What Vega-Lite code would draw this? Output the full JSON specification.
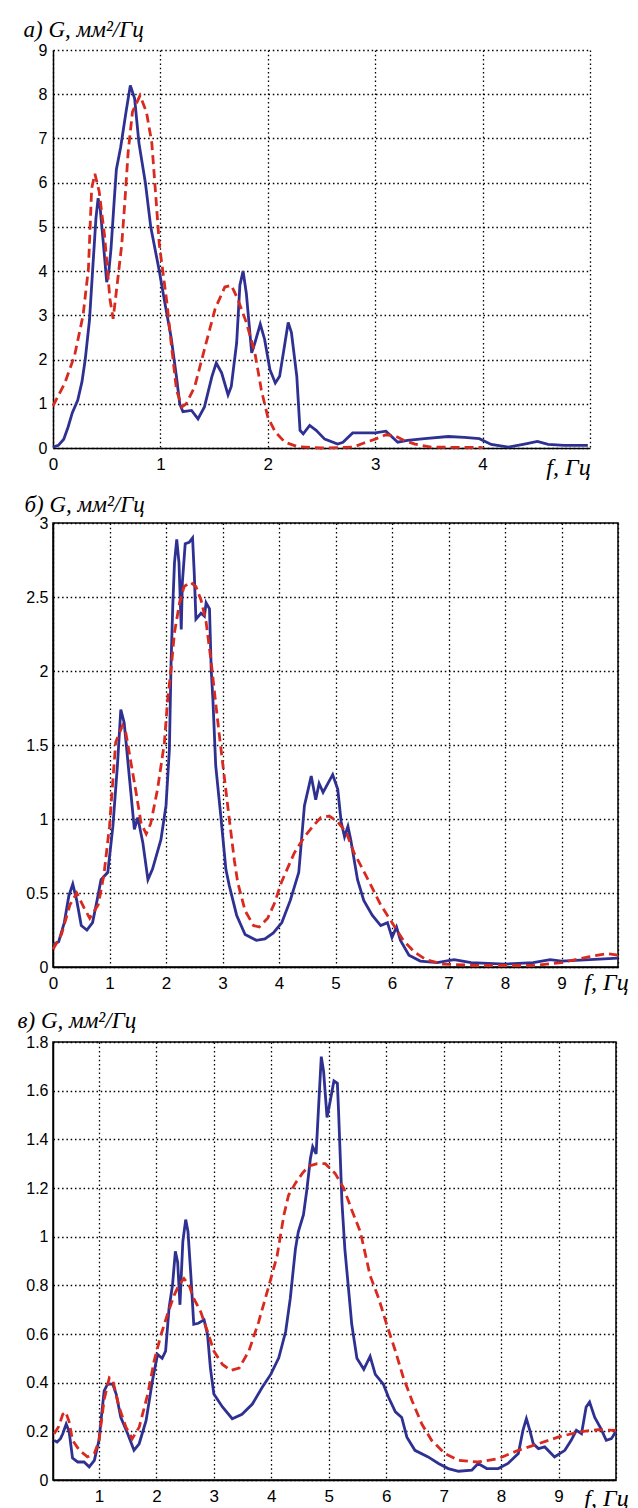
{
"$schema": "https://vega.github.io/schema/vega-lite/v6.json",
"padding": {"left": 16, "top": 18, "right": 5, "bottom": 0},
"background": "white",
"bounds": "flush",
"spacing": 75,
"config": {
  "font": "Liberation Sans",
  "view": {"stroke": "#000", "strokeWidth": 1.5},
  "axis": {"grid": true, "gridColor": "#000", "gridDash": [1.5, 2.8], "gridWidth": 1.3, "gridOpacity": 1,
           "domainColor": "#000", "domainWidth": 1.5, "ticks": false, "labelFont": "Liberation Sans", "labelFontSize": 16,
           "labelColor": "#000", "labelFlush": false, "labelOverlap": false, "format": "~g",
           "titleFont": "Liberation Serif", "titleFontStyle": "italic", "titleFontWeight": "normal", "titleFontSize": 22, "titleColor": "#000"}
},
"datasets": {
  "a_exp": [{"f":0,"G":0.02},{"f":0.05,"G":0.06},{"f":0.1,"G":0.2},{"f":0.14,"G":0.47},{"f":0.18,"G":0.8},{"f":0.23,"G":1.08},{"f":0.27,"G":1.5},{"f":0.3,"G":2.0},{"f":0.34,"G":2.9},{"f":0.37,"G":4.06},{"f":0.4,"G":5.2},{"f":0.42,"G":5.65},{"f":0.44,"G":5.4},{"f":0.47,"G":4.6},{"f":0.5,"G":3.75},{"f":0.52,"G":4.0},{"f":0.54,"G":4.5},{"f":0.57,"G":5.6},{"f":0.59,"G":6.3},{"f":0.63,"G":6.8},{"f":0.68,"G":7.6},{"f":0.72,"G":8.2},{"f":0.76,"G":7.9},{"f":0.8,"G":6.9},{"f":0.86,"G":6.0},{"f":0.91,"G":5.0},{"f":0.95,"G":4.5},{"f":0.99,"G":4.0},{"f":1.04,"G":3.3},{"f":1.1,"G":2.5},{"f":1.15,"G":1.6},{"f":1.18,"G":1.0},{"f":1.21,"G":0.82},{"f":1.29,"G":0.85},{"f":1.35,"G":0.66},{"f":1.41,"G":0.93},{"f":1.48,"G":1.62},{"f":1.52,"G":1.92},{"f":1.57,"G":1.7},{"f":1.63,"G":1.2},{"f":1.66,"G":1.39},{"f":1.71,"G":2.38},{"f":1.74,"G":3.68},{"f":1.77,"G":4.0},{"f":1.8,"G":3.5},{"f":1.85,"G":2.15},{"f":1.88,"G":2.38},{"f":1.93,"G":2.8},{"f":1.97,"G":2.46},{"f":2.02,"G":1.77},{"f":2.07,"G":1.47},{"f":2.11,"G":1.62},{"f":2.16,"G":2.38},{"f":2.19,"G":2.84},{"f":2.22,"G":2.61},{"f":2.27,"G":1.62},{"f":2.3,"G":0.4},{"f":2.33,"G":0.32},{"f":2.39,"G":0.51},{"f":2.45,"G":0.4},{"f":2.53,"G":0.2},{"f":2.65,"G":0.09},{"f":2.7,"G":0.13},{"f":2.79,"G":0.34},{"f":3.0,"G":0.34},{"f":3.1,"G":0.38},{"f":3.21,"G":0.13},{"f":3.3,"G":0.17},{"f":3.46,"G":0.21},{"f":3.68,"G":0.26},{"f":3.83,"G":0.24},{"f":3.97,"G":0.21},{"f":4.08,"G":0.08},{"f":4.24,"G":0.02},{"f":4.39,"G":0.09},{"f":4.51,"G":0.15},{"f":4.61,"G":0.08},{"f":4.76,"G":0.06},{"f":4.98,"G":0.06}],
  "a_th": [{"f":0,"G":0.95},{"f":0.11,"G":1.47},{"f":0.2,"G":2.08},{"f":0.28,"G":3.0},{"f":0.33,"G":4.06},{"f":0.36,"G":5.87},{"f":0.39,"G":6.2},{"f":0.43,"G":5.8},{"f":0.48,"G":4.8},{"f":0.53,"G":3.37},{"f":0.56,"G":2.92},{"f":0.6,"G":3.75},{"f":0.64,"G":4.6},{"f":0.67,"G":5.6},{"f":0.7,"G":6.7},{"f":0.74,"G":7.6},{"f":0.81,"G":7.97},{"f":0.87,"G":7.6},{"f":0.92,"G":6.9},{"f":0.96,"G":5.6},{"f":0.99,"G":4.6},{"f":1.06,"G":3.3},{"f":1.1,"G":2.38},{"f":1.15,"G":1.31},{"f":1.2,"G":0.93},{"f":1.24,"G":1.0},{"f":1.32,"G":1.39},{"f":1.41,"G":2.23},{"f":1.51,"G":3.15},{"f":1.6,"G":3.64},{"f":1.66,"G":3.68},{"f":1.72,"G":3.37},{"f":1.8,"G":2.84},{"f":1.88,"G":2.15},{"f":1.94,"G":1.31},{"f":2.0,"G":0.7},{"f":2.07,"G":0.36},{"f":2.16,"G":0.13},{"f":2.28,"G":0.03},{"f":2.5,"G":0.0},{"f":2.8,"G":0.02},{"f":2.87,"G":0.09},{"f":3.0,"G":0.2},{"f":3.1,"G":0.3},{"f":3.18,"G":0.28},{"f":3.27,"G":0.17},{"f":3.37,"G":0.09},{"f":3.52,"G":0.02},{"f":4.0,"G":0.01}],
  "b_exp": [{"f":0,"G":0.15},{"f":0.1,"G":0.17},{"f":0.2,"G":0.3},{"f":0.28,"G":0.48},{"f":0.35,"G":0.56},{"f":0.42,"G":0.45},{"f":0.5,"G":0.28},{"f":0.6,"G":0.25},{"f":0.7,"G":0.3},{"f":0.78,"G":0.45},{"f":0.85,"G":0.59},{"f":0.97,"G":0.64},{"f":1.06,"G":0.95},{"f":1.14,"G":1.36},{"f":1.2,"G":1.74},{"f":1.26,"G":1.65},{"f":1.35,"G":1.29},{"f":1.44,"G":0.93},{"f":1.5,"G":1.01},{"f":1.59,"G":0.84},{"f":1.68,"G":0.59},{"f":1.76,"G":0.66},{"f":1.91,"G":0.86},{"f":2.0,"G":1.09},{"f":2.06,"G":1.47},{"f":2.09,"G":2.06},{"f":2.12,"G":2.44},{"f":2.15,"G":2.73},{"f":2.19,"G":2.89},{"f":2.23,"G":2.73},{"f":2.27,"G":2.28},{"f":2.29,"G":2.6},{"f":2.34,"G":2.86},{"f":2.41,"G":2.87},{"f":2.47,"G":2.9},{"f":2.5,"G":2.66},{"f":2.53,"G":2.35},{"f":2.62,"G":2.39},{"f":2.68,"G":2.37},{"f":2.71,"G":2.46},{"f":2.77,"G":2.42},{"f":2.8,"G":2.01},{"f":2.83,"G":1.81},{"f":2.88,"G":1.36},{"f":2.97,"G":1.02},{"f":3.06,"G":0.66},{"f":3.12,"G":0.55},{"f":3.25,"G":0.35},{"f":3.4,"G":0.22},{"f":3.6,"G":0.18},{"f":3.75,"G":0.19},{"f":3.9,"G":0.23},{"f":4.05,"G":0.3},{"f":4.2,"G":0.45},{"f":4.35,"G":0.64},{"f":4.45,"G":1.09},{"f":4.57,"G":1.29},{"f":4.65,"G":1.13},{"f":4.71,"G":1.24},{"f":4.78,"G":1.18},{"f":4.95,"G":1.3},{"f":5.04,"G":1.2},{"f":5.1,"G":0.98},{"f":5.16,"G":0.88},{"f":5.22,"G":0.95},{"f":5.27,"G":0.86},{"f":5.39,"G":0.59},{"f":5.5,"G":0.45},{"f":5.65,"G":0.35},{"f":5.8,"G":0.28},{"f":5.92,"G":0.3},{"f":6.0,"G":0.2},{"f":6.08,"G":0.27},{"f":6.15,"G":0.18},{"f":6.3,"G":0.08},{"f":6.5,"G":0.04},{"f":6.8,"G":0.03},{"f":7.1,"G":0.05},{"f":7.4,"G":0.03},{"f":8.0,"G":0.02},{"f":8.5,"G":0.03},{"f":8.8,"G":0.05},{"f":9.0,"G":0.04},{"f":9.5,"G":0.05},{"f":10,"G":0.06}],
  "b_th": [{"f":0,"G":0.12},{"f":0.15,"G":0.22},{"f":0.3,"G":0.42},{"f":0.42,"G":0.5},{"f":0.55,"G":0.4},{"f":0.65,"G":0.33},{"f":0.8,"G":0.42},{"f":0.9,"G":0.62},{"f":1.0,"G":0.95},{"f":1.11,"G":1.52},{"f":1.23,"G":1.63},{"f":1.29,"G":1.58},{"f":1.38,"G":1.38},{"f":1.47,"G":1.18},{"f":1.56,"G":0.97},{"f":1.65,"G":0.9},{"f":1.73,"G":0.97},{"f":1.85,"G":1.2},{"f":1.97,"G":1.51},{"f":2.03,"G":1.81},{"f":2.09,"G":2.01},{"f":2.15,"G":2.26},{"f":2.24,"G":2.46},{"f":2.32,"G":2.57},{"f":2.43,"G":2.6},{"f":2.53,"G":2.57},{"f":2.62,"G":2.48},{"f":2.71,"G":2.33},{"f":2.8,"G":2.06},{"f":2.86,"G":1.85},{"f":2.94,"G":1.58},{"f":3.03,"G":1.29},{"f":3.12,"G":1.0},{"f":3.21,"G":0.72},{"f":3.27,"G":0.57},{"f":3.4,"G":0.38},{"f":3.55,"G":0.28},{"f":3.65,"G":0.27},{"f":3.8,"G":0.33},{"f":3.92,"G":0.43},{"f":4.04,"G":0.57},{"f":4.27,"G":0.77},{"f":4.45,"G":0.88},{"f":4.62,"G":0.96},{"f":4.74,"G":1.01},{"f":4.89,"G":1.02},{"f":5.04,"G":0.98},{"f":5.19,"G":0.91},{"f":5.33,"G":0.77},{"f":5.51,"G":0.64},{"f":5.63,"G":0.55},{"f":5.8,"G":0.42},{"f":6.0,"G":0.3},{"f":6.2,"G":0.18},{"f":6.4,"G":0.1},{"f":6.6,"G":0.05},{"f":6.9,"G":0.02},{"f":7.5,"G":0.01},{"f":8.5,"G":0.01},{"f":9.0,"G":0.03},{"f":9.5,"G":0.07},{"f":9.8,"G":0.09},{"f":10,"G":0.08}],
  "c_exp": [{"f":0.22,"G":0.163},{"f":0.27,"G":0.156},{"f":0.33,"G":0.17},{"f":0.37,"G":0.19},{"f":0.43,"G":0.23},{"f":0.48,"G":0.2},{"f":0.54,"G":0.09},{"f":0.63,"G":0.074},{"f":0.74,"G":0.074},{"f":0.83,"G":0.054},{"f":0.92,"G":0.081},{"f":1.0,"G":0.163},{"f":1.09,"G":0.366},{"f":1.15,"G":0.394},{"f":1.24,"G":0.394},{"f":1.3,"G":0.353},{"f":1.38,"G":0.258},{"f":1.5,"G":0.19},{"f":1.61,"G":0.122},{"f":1.7,"G":0.149},{"f":1.82,"G":0.244},{"f":1.93,"G":0.407},{"f":2.02,"G":0.516},{"f":2.1,"G":0.5},{"f":2.16,"G":0.53},{"f":2.22,"G":0.706},{"f":2.28,"G":0.8},{"f":2.33,"G":0.94},{"f":2.37,"G":0.895},{"f":2.41,"G":0.72},{"f":2.46,"G":0.98},{"f":2.51,"G":1.07},{"f":2.55,"G":1.02},{"f":2.6,"G":0.84},{"f":2.65,"G":0.64},{"f":2.73,"G":0.644},{"f":2.83,"G":0.658},{"f":2.89,"G":0.597},{"f":2.94,"G":0.46},{"f":3.0,"G":0.353},{"f":3.15,"G":0.3},{"f":3.32,"G":0.252},{"f":3.49,"G":0.27},{"f":3.67,"G":0.312},{"f":3.84,"G":0.38},{"f":3.99,"G":0.434},{"f":4.13,"G":0.502},{"f":4.25,"G":0.61},{"f":4.33,"G":0.746},{"f":4.42,"G":0.95},{"f":4.47,"G":1.02},{"f":4.56,"G":1.09},{"f":4.62,"G":1.195},{"f":4.68,"G":1.32},{"f":4.72,"G":1.37},{"f":4.78,"G":1.34},{"f":4.82,"G":1.52},{"f":4.87,"G":1.74},{"f":4.91,"G":1.68},{"f":4.97,"G":1.49},{"f":5.02,"G":1.55},{"f":5.09,"G":1.64},{"f":5.15,"G":1.63},{"f":5.17,"G":1.52},{"f":5.23,"G":1.14},{"f":5.28,"G":0.95},{"f":5.35,"G":0.77},{"f":5.4,"G":0.64},{"f":5.49,"G":0.5},{"f":5.61,"G":0.455},{"f":5.72,"G":0.508},{"f":5.81,"G":0.434},{"f":5.95,"G":0.394},{"f":6.04,"G":0.34},{"f":6.16,"G":0.28},{"f":6.27,"G":0.257},{"f":6.36,"G":0.176},{"f":6.5,"G":0.122},{"f":6.73,"G":0.095},{"f":6.91,"G":0.068},{"f":7.08,"G":0.047},{"f":7.26,"G":0.036},{"f":7.49,"G":0.04},{"f":7.6,"G":0.068},{"f":7.75,"G":0.047},{"f":7.95,"G":0.047},{"f":8.12,"G":0.068},{"f":8.3,"G":0.109},{"f":8.38,"G":0.204},{"f":8.44,"G":0.252},{"f":8.5,"G":0.204},{"f":8.56,"G":0.149},{"f":8.65,"G":0.129},{"f":8.76,"G":0.136},{"f":8.93,"G":0.095},{"f":9.11,"G":0.122},{"f":9.22,"G":0.163},{"f":9.31,"G":0.204},{"f":9.4,"G":0.19},{"f":9.48,"G":0.3},{"f":9.54,"G":0.32},{"f":9.63,"G":0.257},{"f":9.74,"G":0.21},{"f":9.83,"G":0.163},{"f":9.92,"G":0.17},{"f":10,"G":0.2}],
  "c_th": [{"f":0.22,"G":0.19},{"f":0.3,"G":0.22},{"f":0.37,"G":0.27},{"f":0.42,"G":0.28},{"f":0.48,"G":0.24},{"f":0.54,"G":0.163},{"f":0.66,"G":0.122},{"f":0.8,"G":0.095},{"f":0.92,"G":0.109},{"f":1.0,"G":0.16},{"f":1.09,"G":0.33},{"f":1.18,"G":0.42},{"f":1.24,"G":0.41},{"f":1.35,"G":0.3},{"f":1.47,"G":0.217},{"f":1.58,"G":0.17},{"f":1.7,"G":0.217},{"f":1.85,"G":0.353},{"f":1.96,"G":0.489},{"f":2.08,"G":0.597},{"f":2.19,"G":0.679},{"f":2.31,"G":0.76},{"f":2.39,"G":0.8},{"f":2.48,"G":0.828},{"f":2.57,"G":0.8},{"f":2.65,"G":0.746},{"f":2.77,"G":0.692},{"f":2.89,"G":0.61},{"f":3.0,"G":0.53},{"f":3.15,"G":0.475},{"f":3.29,"G":0.45},{"f":3.44,"G":0.46},{"f":3.61,"G":0.53},{"f":3.78,"G":0.65},{"f":3.96,"G":0.8},{"f":4.1,"G":0.92},{"f":4.22,"G":1.09},{"f":4.3,"G":1.17},{"f":4.42,"G":1.22},{"f":4.54,"G":1.26},{"f":4.65,"G":1.29},{"f":4.8,"G":1.3},{"f":4.94,"G":1.3},{"f":5.11,"G":1.26},{"f":5.26,"G":1.2},{"f":5.4,"G":1.11},{"f":5.55,"G":1.02},{"f":5.72,"G":0.84},{"f":5.87,"G":0.746},{"f":6.01,"G":0.638},{"f":6.16,"G":0.53},{"f":6.3,"G":0.42},{"f":6.45,"G":0.326},{"f":6.62,"G":0.23},{"f":6.79,"G":0.163},{"f":7.02,"G":0.109},{"f":7.26,"G":0.081},{"f":7.6,"G":0.074},{"f":7.95,"G":0.088},{"f":8.3,"G":0.122},{"f":8.65,"G":0.149},{"f":8.99,"G":0.176},{"f":9.34,"G":0.197},{"f":9.69,"G":0.207},{"f":10,"G":0.204}]
},
"vconcat": [
  {
    "width": 537, "height": 398,
    "view": {"stroke": null},
    "encoding": {
      "x": {"field": "f", "type": "quantitative", "scale": {"domain": [0, 5], "nice": false, "zero": false},
            "axis": {"values": [0,1,2,3,4,5], "labelExpr": "datum.value == 5 ? '' : datum.label", "labelPadding": 8, "labelFontSize": 17,
                     "title": "f, Гц", "titleFontSize": 24, "titleAlign": "center", "titleBaseline": "alphabetic", "titleX": 515, "titleY": 26}},
      "y": {"field": "G", "type": "quantitative", "scale": {"domain": [0, 9], "nice": false},
            "axis": {"values": [0,1,2,3,4,5,6,7,8,9], "labelPadding": 6,
                     "title": "а)  G, мм²/Гц", "titleFontSize": 23, "titleAngle": 0, "titleAlign": "left", "titleBaseline": "alphabetic", "titleX": -30, "titleY": -14}}
    },
    "layer": [
      {"data": {"name": "a_exp"}, "mark": {"type": "line", "color": "#2e3192", "strokeWidth": 2.8}},
      {"data": {"name": "a_th"}, "mark": {"type": "line", "color": "#d92a1f", "strokeWidth": 2.8, "strokeDash": [9, 5]}}
    ]
  },
  {
    "width": 565, "height": 444,
    "encoding": {
      "x": {"field": "f", "type": "quantitative", "scale": {"domain": [0, 10], "nice": false, "zero": false},
            "axis": {"values": [0,1,2,3,4,5,6,7,8,9,10], "labelExpr": "datum.value == 10 ? '' : datum.label", "labelPadding": 8, "labelFontSize": 17,
                     "title": "f, Гц", "titleFontSize": 24, "titleAlign": "center", "titleBaseline": "alphabetic", "titleX": 553, "titleY": 22}},
      "y": {"field": "G", "type": "quantitative", "scale": {"domain": [0, 3], "nice": false},
            "axis": {"values": [0,0.5,1,1.5,2,2.5,3], "labelPadding": 5,
                     "title": "б)  G, мм²/Гц", "titleFontSize": 23, "titleAngle": 0, "titleAlign": "left", "titleBaseline": "alphabetic", "titleX": -29, "titleY": -12}}
    },
    "layer": [
      {"data": {"name": "b_exp"}, "mark": {"type": "line", "color": "#2e3192", "strokeWidth": 2.8}},
      {"data": {"name": "b_th"}, "mark": {"type": "line", "color": "#d92a1f", "strokeWidth": 2.8, "strokeDash": [9, 5]}}
    ]
  },
  {
    "width": 563, "height": 438,
    "encoding": {
      "x": {"field": "f", "type": "quantitative", "scale": {"domain": [0.2, 10], "nice": false, "zero": false},
            "axis": {"values": [1,2,3,4,5,6,7,8,9,10], "labelExpr": "datum.value == 10 ? '' : datum.label", "labelPadding": 8, "labelFontSize": 17,
                     "title": "f, Гц", "titleFontSize": 24, "titleAlign": "center", "titleBaseline": "alphabetic", "titleX": 553, "titleY": 25}},
      "y": {"field": "G", "type": "quantitative", "scale": {"domain": [0, 1.8], "nice": false},
            "axis": {"values": [0,0.2,0.4,0.6,0.8,1,1.2,1.4,1.6,1.8], "labelPadding": 5,
                     "title": "в)   G, мм²/Гц", "titleFontSize": 23, "titleAngle": 0, "titleAlign": "left", "titleBaseline": "alphabetic", "titleX": -36, "titleY": -15}}
    },
    "layer": [
      {"data": {"name": "c_exp"}, "mark": {"type": "line", "color": "#2e3192", "strokeWidth": 2.8}},
      {"data": {"name": "c_th"}, "mark": {"type": "line", "color": "#d92a1f", "strokeWidth": 2.8, "strokeDash": [9, 5]}}
    ]
  }
]
}
